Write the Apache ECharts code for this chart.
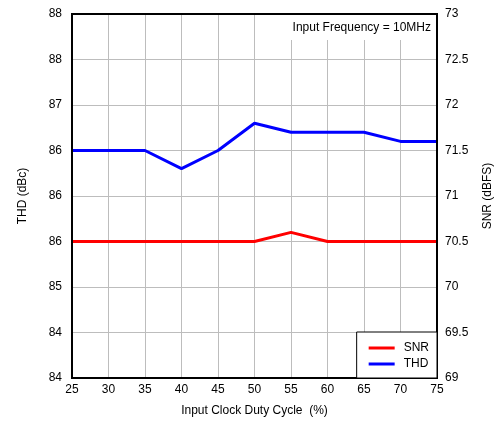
<!DOCTYPE html>
<html>
<head>
<meta charset="utf-8">
<script src="https://cdn.jsdelivr.net/npm/echarts@6/dist/echarts.min.js"></script>
<style>html,body{margin:0;padding:0;background:#fff}#c{width:498px;height:422px}</style>
</head>
<body>
<div id="c"></div>
<script>
var dutyCycle = [25, 30, 35, 40, 45, 50, 55, 60, 65, 70, 75];
var thd = [86.5, 86.5, 86.5, 86.3, 86.5, 86.8, 86.7, 86.7, 86.7, 86.6, 86.6];
var snr = [70.5, 70.5, 70.5, 70.5, 70.5, 70.5, 70.6, 70.5, 70.5, 70.5, 70.5];
var leftTickLabels = ['84', '84', '85', '86', '86', '86', '87', '88', '88'];
var rightTickLabels = ['69', '69.5', '70', '70.5', '71', '71.5', '72', '72.5', '73'];
var annotation = 'Input Frequency = 10MHz';

var font = 'Liberation Sans, Arial, sans-serif';
var chart = echarts.init(document.getElementById('c'));
var gridL = 72, gridR = 61, gridT = 14, gridB = 44;
chart.setOption({
  animation: false,
  backgroundColor: '#fff',
  textStyle: {fontFamily: font},
  grid: {left: gridL, right: gridR, top: gridT, bottom: gridB, show: true, borderColor: '#000', borderWidth: 2, backgroundColor: 'transparent', z: 10, outerBoundsMode: 'none', containLabel: false},
  xAxis: {
    type: 'value', min: 25, max: 75, interval: 5,
    name: 'Input Clock Duty Cycle  (%)', nameLocation: 'middle', nameGap: 27,
    nameTextStyle: {fontSize: 12, color: '#000', fontFamily: font},
    axisLine: {show: false}, axisTick: {show: false},
    axisLabel: {fontSize: 12, color: '#000', margin: 6, fontFamily: font},
    splitLine: {show: true, lineStyle: {color: '#bdbdbd', width: 1}}
  },
  yAxis: [{
    type: 'value', min: 84, max: 88, interval: 0.5, position: 'left',
    name: 'THD (dBc)', nameLocation: 'middle', nameGap: 43, nameRotate: 90,
    nameTextStyle: {fontSize: 12, color: '#000', fontFamily: font},
    axisLine: {show: false}, axisTick: {show: false},
    axisLabel: {fontSize: 12, color: '#000', margin: 10, fontFamily: font,
      formatter: function (v) { var i = Math.round((v - 84) / 0.5); return leftTickLabels[i] || ''; }},
    splitLine: {show: true, lineStyle: {color: '#bdbdbd', width: 1}}
  }, {
    type: 'value', min: 69, max: 73, interval: 0.5, position: 'right',
    name: 'SNR (dBFS)', nameLocation: 'middle', nameGap: 45, nameRotate: 90,
    nameTextStyle: {fontSize: 12, color: '#000', fontFamily: font},
    axisLine: {show: false}, axisTick: {show: false},
    axisLabel: {fontSize: 12, color: '#000', margin: 8, fontFamily: font,
      formatter: function (v) { var i = Math.round((v - 69) / 0.5); return rightTickLabels[i] || ''; }},
    splitLine: {show: false}
  }],
  legend: {
    orient: 'vertical', right: gridR, bottom: gridB,
    backgroundColor: '#fff', borderColor: '#000', borderWidth: 1,
    padding: [10, 8, 8, 12], itemGap: 4, itemWidth: 26, itemHeight: 3,
    icon: 'rect', z: 20,
    textStyle: {fontSize: 12, color: '#000', fontFamily: font, padding: [0, 0, 0, 4]},
    data: ['SNR', 'THD']
  },
  graphic: [{
    type: 'rect', shape: {x: 270, y: 15, width: 166, height: 25},
    style: {fill: '#fff'}, z: 5
  }, {
    type: 'text', right: 67, top: 22,
    style: {text: annotation, fontSize: 12, fill: '#000', fontFamily: font}, z: 6
  }],
  series: [{
    name: 'SNR', type: 'line', yAxisIndex: 1, showSymbol: false,
    data: dutyCycle.map(function (x, i) { return [x, snr[i]]; }),
    lineStyle: {color: '#ff0000', width: 3}, itemStyle: {color: '#ff0000'}, z: 3
  }, {
    name: 'THD', type: 'line', yAxisIndex: 0, showSymbol: false,
    data: dutyCycle.map(function (x, i) { return [x, thd[i]]; }),
    lineStyle: {color: '#0000ff', width: 3}, itemStyle: {color: '#0000ff'}, z: 3
  }]
});
</script>
</body>
</html>
